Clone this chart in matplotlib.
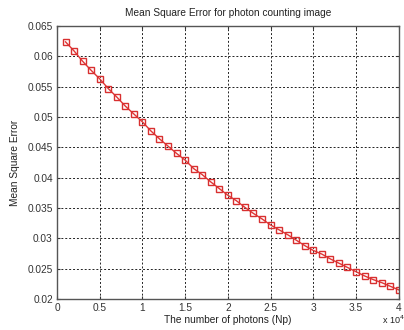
import matplotlib
matplotlib.use("Agg")
import matplotlib.pyplot as plt

# number of photons (x 10^4) and mean square error
photons = [i / 10 for i in range(1, 41)]
mse = [0.0624, 0.0609, 0.0592, 0.0577, 0.0563, 0.0547, 0.0533, 0.0518, 0.0505, 0.0492,
       0.0477, 0.0464, 0.0452, 0.0440, 0.0429, 0.0415, 0.0405, 0.0393, 0.0382, 0.0371,
       0.0362, 0.0351, 0.0341, 0.0332, 0.0322, 0.0314, 0.0306, 0.0297, 0.0288, 0.0280,
       0.0274, 0.0266, 0.0259, 0.0252, 0.0245, 0.0238, 0.0232, 0.0227, 0.0221, 0.0215]
xticks = [0, 0.5, 1, 1.5, 2, 2.5, 3, 3.5, 4]
yticks = [0.02, 0.025, 0.03, 0.035, 0.04, 0.045, 0.05, 0.055, 0.06, 0.065]

plt.rcParams['font.family'] = ['Liberation Sans', 'DejaVu Sans']

fig = plt.figure(figsize=(4.04, 3.30), dpi=100)
ax = fig.add_axes([0.141, 0.094, 0.846, 0.827])

ax.plot(photons, mse, color='#e03535', linewidth=1.0, marker='s', markersize=5.0,
        markerfacecolor='none', markeredgecolor='#d83030', markeredgewidth=1.0)

ax.set_xlim(0, 4)
ax.set_ylim(0.02, 0.065)
ax.set_xticks(xticks)
ax.set_xticklabels(['0', '0.5', '1', '1.5', '2', '2.5', '3', '3.5', '4'])
ax.set_yticks(yticks)
ax.set_yticklabels(['0.02', '0.025', '0.03', '0.035', '0.04', '0.045', '0.05', '0.055', '0.06', '0.065'])
ax.grid(True, linestyle=(0, (2, 2)), color='#222222', linewidth=0.7)
ax.tick_params(direction='in', top=True, right=True, labelsize=7.3, colors='#333333',
               length=2, pad=3)
for s in ax.spines.values():
    s.set_color('#555555')
    s.set_linewidth(1.0)

ax.set_title('Mean Square Error for photon counting image', fontsize=7.3, pad=7, color='#222222')
ax.set_xlabel('The number of photons (Np)', fontsize=7.3, labelpad=1, color='#222222')
ax.set_ylabel('Mean Square Error', fontsize=7.3, labelpad=5, color='#222222')
fig.text(0.945, 0.012, r'x 10$^{4}$', fontsize=6.5, ha='left', va='bottom', color='#222222')

fig.savefig('out.png', dpi=100)
